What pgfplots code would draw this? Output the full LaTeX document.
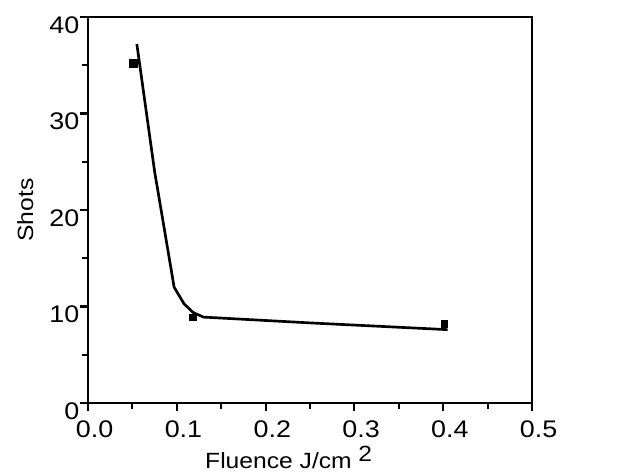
\documentclass[border=0pt]{standalone}
\usepackage{fontspec}
\setmainfont{Liberation Sans}[FakeStretch=1.12]
\usepackage{pgfplots}
\pgfplotsset{compat=1.18}

\begin{document}
\begin{tikzpicture}
\begin{axis}[
  name=ax,
  width=333pt,height=289.5pt,scale only axis,
  xmin=0,xmax=0.5,ymin=0,ymax=40,
  xtick={0,0.1,0.2,0.3,0.4,0.5},
  ytick={0,10,20,30,40},
  minor tick num=1,
  tick align=outside,
  xtick pos=bottom,ytick pos=left,
  major tick length=6pt,minor tick length=4.5pt,
  every tick/.style={black,line width=1.6pt},
  axis line style={line width=2pt},
  /pgf/number format/assume math mode=true,
  tick label style={font=\fontsize{18}{20}\selectfont},
  xticklabel style={xshift=5pt,yshift=-4pt,
    /pgf/number format/fixed,/pgf/number format/fixed zerofill,
    /pgf/number format/precision=1},
  yticklabel style={yshift=-6pt,xshift=3pt},
  label style={font=\fontsize{16.5}{19}\selectfont},
  xlabel={Fluence J/cm\hspace{5pt}\raisebox{5.5pt}{2}},
  ylabel={Shots},
  xlabel style={at={([xshift=-16pt,yshift=-49.5pt]rel axis cs:0.5,0)},anchor=base},
  ylabel style={at={([xshift=-47pt]rel axis cs:0,0.5)},anchor=center,rotate=0},
  clip=false]
\addplot[black,line width=2pt]
  coordinates{(0.055,37.2)(0.075,24)(0.097,12)(0.108,10.3)(0.118,9.4)(0.13,8.9)(0.25,8.3)(0.405,7.6)};
\addplot[black,only marks,mark=square*,mark size=3pt]
  coordinates{(0.0505,35.2)};
\addplot[black,only marks,mark=square*,mark size=2.4pt]
  coordinates{(0.118,8.9)(0.401,8.2)};
\end{axis}
\pgfresetboundingbox
\path ([xshift=-66pt,yshift=-54pt]ax.south west) rectangle ([xshift=78pt,yshift=12.75pt]ax.north east);
\end{tikzpicture}
\end{document}
